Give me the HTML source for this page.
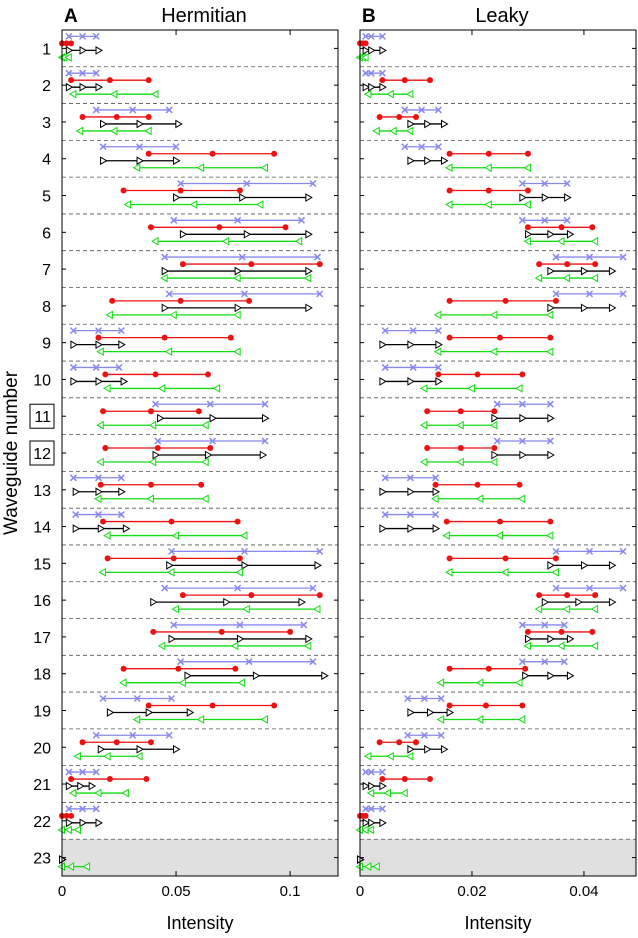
<!DOCTYPE html>
<html><head><meta charset="utf-8">
<style>
html,body{margin:0;padding:0;background:#fff;}
svg{display:block;font-family:"Liberation Sans",Arial,sans-serif;}
</style></head>
<body>
<svg id="chart" width="638" height="938" viewBox="0 0 638 938"></svg>
<script>
// ---- data: each entry [min, mean, max] per waveguide row (1..23), null = absent ----
const rows = [1,2,3,4,5,6,7,8,9,10,11,12,13,14,15,16,17,18,19,20,21,22,23];
const hermBlue = [[.003,.009,.015],[.003,.009,.015],[.015,.031,.047],[.018,.034,.05],[.052,.081,.11],[.049,.077,.105],[.045,.079,.112],[.047,.08,.113],[.005,.016,.026],[.005,.015,.025],[.041,.065,.089],[.042,.066,.089],[.005,.016,.026],[.006,.016,.026],[.048,.08,.113],[.045,.077,.11],[.049,.078,.106],[.052,.082,.11],[.018,.033,.048],[.015,.031,.047],[.003,.009,.015],[.003,.009,.015],null];
const hermRed = [[0,.002,.004],[.004,.021,.038],[.009,.024,.038],[.038,.066,.093],[.027,.052,.078],[.039,.069,.098],[.053,.083,.113],[.022,.052,.082],[.016,.045,.074],[.019,.041,.064],[.018,.039,.06],[.019,.042,.065],[.017,.039,.061],[.018,.048,.077],[.02,.049,.078],[.053,.083,.113],[.04,.07,.1],[.027,.051,.076],[.038,.066,.093],[.009,.024,.039],[.004,.021,.037],[0,.002,.004],null];
const hermBlack = [[.003,.009,.016],[.003,.009,.016],[.018,.034,.051],[.018,.034,.05],[.05,.079,.108],[.053,.081,.108],[.045,.077,.108],[.045,.077,.108],[.005,.016,.026],[.005,.016,.027],[.043,.066,.089],[.041,.064,.088],[.006,.016,.026],[.006,.017,.028],[.047,.08,.112],[.04,.072,.105],[.048,.078,.108],[.055,.085,.115],[.021,.038,.056],[.017,.034,.05],[.003,.008,.013],[.003,.009,.016],[0,0,0]];
const hermGreen = [[0,.001,.003],[.005,.023,.041],[.008,.023,.038],[.033,.061,.089],[.029,.058,.087],[.041,.072,.104],[.045,.077,.108],[.021,.049,.077],[.017,.047,.077],[.02,.044,.068],[.017,.04,.063],[.017,.04,.063],[.016,.039,.063],[.02,.05,.08],[.018,.048,.078],[.05,.081,.112],[.044,.076,.108],[.027,.053,.079],[.033,.061,.089],[.007,.02,.034],[.005,.016,.028],[0,.003,.007],[0,.004,.011]];
const leakBlue = [[.001,.002,.004],[.001,.002,.004],[.008,.011,.014],[.008,.011,.014],[.029,.033,.037],[.029,.033,.037],[.035,.041,.047],[.035,.041,.047],[.0045,.0095,.014],[.0045,.0095,.014],[.0245,.029,.034],[.0245,.029,.034],[.0045,.009,.0135],[.0045,.009,.0135],[.035,.041,.047],[.035,.041,.047],[.029,.033,.0365],[.029,.033,.0365],[.0085,.0115,.0145],[.0085,.0115,.0145],[.001,.002,.004],[.001,.002,.004],null];
const leakRed = [[0,.0005,.001],[.004,.008,.0125],[.0035,.007,.01],[.016,.023,.03],[.016,.023,.03],[.03,.036,.0415],[.032,.037,.042],[.016,.026,.035],[.016,.025,.034],[.014,.021,.029],[.012,.018,.024],[.012,.018,.024],[.0135,.021,.0285],[.0155,.025,.034],[.016,.026,.035],[.032,.037,.042],[.03,.036,.0415],[.016,.023,.0295],[.016,.0225,.029],[.0035,.007,.01],[.004,.008,.0125],[0,.0005,.001],null];
const leakBlack = [[.001,.002,.004],[.001,.002,.004],[.009,.012,.015],[.009,.012,.015],[.029,.033,.037],[.03,.034,.0375],[.034,.04,.045],[.034,.04,.045],[.004,.009,.014],[.004,.009,.014],[.024,.029,.034],[.024,.029,.034],[.004,.009,.0135],[.004,.009,.0135],[.034,.04,.045],[.033,.039,.045],[.03,.034,.0375],[.0295,.034,.0375],[.009,.0125,.016],[.009,.012,.015],[.001,.002,.004],[.001,.002,.004],[0,0,0]];
const leakGreen = [[0,.0005,.001],[.0015,.0055,.009],[.003,.006,.009],[.016,.023,.03],[.016,.023,.03],[.03,.036,.042],[.032,.037,.042],[.014,.024,.034],[.014,.024,.034],[.0115,.02,.0285],[.0115,.018,.024],[.0115,.018,.024],[.0135,.0215,.029],[.0155,.025,.034],[.016,.026,.035],[.032,.037,.042],[.03,.036,.042],[.0145,.0215,.0285],[.0145,.0215,.029],[.0015,.0055,.009],[.002,.005,.008],[0,.001,.002],[0,.0015,.003]];
const hermTicks = [0, 0.05, 0.1];
const hermTickLabels = ["0","0.05","0.1"];
const leakTicks = [0, 0.02, 0.04];
const leakTickLabels = ["0","0.02","0.04"];

const NS = "http://www.w3.org/2000/svg";
const svg = document.getElementById('chart');
const TOP = 30, BOT = 876, ROWH = (BOT - TOP) / 23;
function yRow(r){ return TOP + (r - 0.5) * ROWH; }
function mk(tag, attrs, parent){
  const e = document.createElementNS(NS, tag);
  for (const k in attrs) e.setAttribute(k, attrs[k]);
  (parent || svg).appendChild(e);
  return e;
}

function panel(px0, px1, xmax, ticks, tickLabels, letter, title, series, pname){
  const g = mk('g', {});
  
  
  const xs = v => px0 + v / xmax * (px1 - px0);
  // shaded row 23
  const sh = mk('rect', {x: px0, y: TOP + 22 * ROWH, width: px1 - px0, height: ROWH, fill: '#e0e0e0'}, g);
  
  
  // dashed separators
  for (let i = 1; i < 23; i++){
    const l = mk('line', {x1: px0, x2: px1, y1: TOP + i * ROWH, y2: TOP + i * ROWH, stroke: '#555', 'stroke-width': 0.8, 'stroke-dasharray': '4,3'}, g);
    
    
  }
  // series
  const offs = [-12, -5, 2, 9];
  series.forEach((arr, si) => {
    const sg = mk('g', {}, g);
    
    
    arr.forEach((d, ri) => {
      if (!d) return;
      const y = yRow(rows[ri]) + offs[si];
      const col = ['#8888ee', '#ee1111', '#000', '#11dd11'][si];
      const ln = mk('line', {x1: xs(d[0]), x2: xs(d[2]), y1: y, y2: y, stroke: col, 'stroke-width': 1.3}, sg);
      
      
      d.forEach(v => {
        const x = xs(v);
        let m;
        if (si === 0){
          m = mk('path', {d: `M${x-3},${y-3}L${x+3},${y+3}M${x-3},${y+3}L${x+3},${y-3}`, stroke: col, 'stroke-width': 1.5, fill: 'none'}, sg);
        } else if (si === 1){
          m = mk('circle', {cx: x, cy: y, r: 3, fill: col}, sg);
        } else if (si === 2){
          m = mk('path', {d: `M${x-2.5},${y-3.5}L${x+3.5},${y}L${x-2.5},${y+3.5}Z`, stroke: col, 'stroke-width': 1, fill: '#fff'}, sg);
        } else {
          m = mk('path', {d: `M${x+2.5},${y-3.5}L${x-3.5},${y}L${x+2.5},${y+3.5}Z`, stroke: col, 'stroke-width': 1, fill: '#fff'}, sg);
        }
        
        
      });
    });
  });
  // frame
  const fr = mk('rect', {x: px0, y: TOP, width: px1 - px0, height: BOT - TOP, fill: 'none', stroke: '#000', 'stroke-width': 1}, g);
  
  
  // x ticks
  ticks.forEach((t, i) => {
    const x = xs(t);
    mk('line', {x1: x, x2: x, y1: BOT, y2: BOT - 5, stroke: '#000'}, g);
    mk('line', {x1: x, x2: x, y1: TOP, y2: TOP + 5, stroke: '#000'}, g);
    const tx = mk('text', {x: x, y: BOT + 20, 'text-anchor': 'middle', 'font-size': 15}, g);
    tx.textContent = tickLabels[i];
    
    
  });
  // y ticks
  rows.forEach(r => {
    mk('line', {x1: px0, x2: px0 + 4, y1: yRow(r), y2: yRow(r), stroke: '#000'}, g);
    mk('line', {x1: px1, x2: px1 - 4, y1: yRow(r), y2: yRow(r), stroke: '#000'}, g);
  });
  const xl = mk('text', {x: (px0 + px1) / 2, y: 929, 'text-anchor': 'middle', 'font-size': 18}, g);
  xl.textContent = 'Intensity';
  
  
  const lt = mk('text', {x: px0 + 2, y: 22, 'font-size': 19, 'font-weight': 'bold'}, g);
  lt.textContent = letter;
  
  
  const tt = mk('text', {x: (px0 + px1) / 2 + 4, y: 22, 'text-anchor': 'middle', 'font-size': 20}, g);
  tt.textContent = title;
  
  
}

panel(62, 338, 0.121, hermTicks, hermTickLabels, 'A', 'Hermitian', [hermBlue, hermRed, hermBlack, hermGreen], 'hermitian');
panel(360, 636, 0.0493, leakTicks, leakTickLabels, 'B', 'Leaky', [leakBlue, leakRed, leakBlack, leakGreen], 'leaky');

// y tick labels
rows.forEach(r => {
  const t = mk('text', {x: 51, y: yRow(r) + 6, 'text-anchor': 'end', 'font-size': 16});
  t.textContent = String(r);
  
  
  if (r === 11 || r === 12){
    const b = mk('rect', {x: 30, y: yRow(r) - 12, width: 24, height: 24, fill: 'none', stroke: '#000', 'stroke-width': 1});
    
    
  }
});
const yt = mk('text', {x: 0, y: 0, 'text-anchor': 'middle', 'font-size': 19, transform: `translate(17,${(TOP+BOT)/2}) rotate(-90)`});
yt.textContent = 'Waveguide number';


</script>
</body></html>
